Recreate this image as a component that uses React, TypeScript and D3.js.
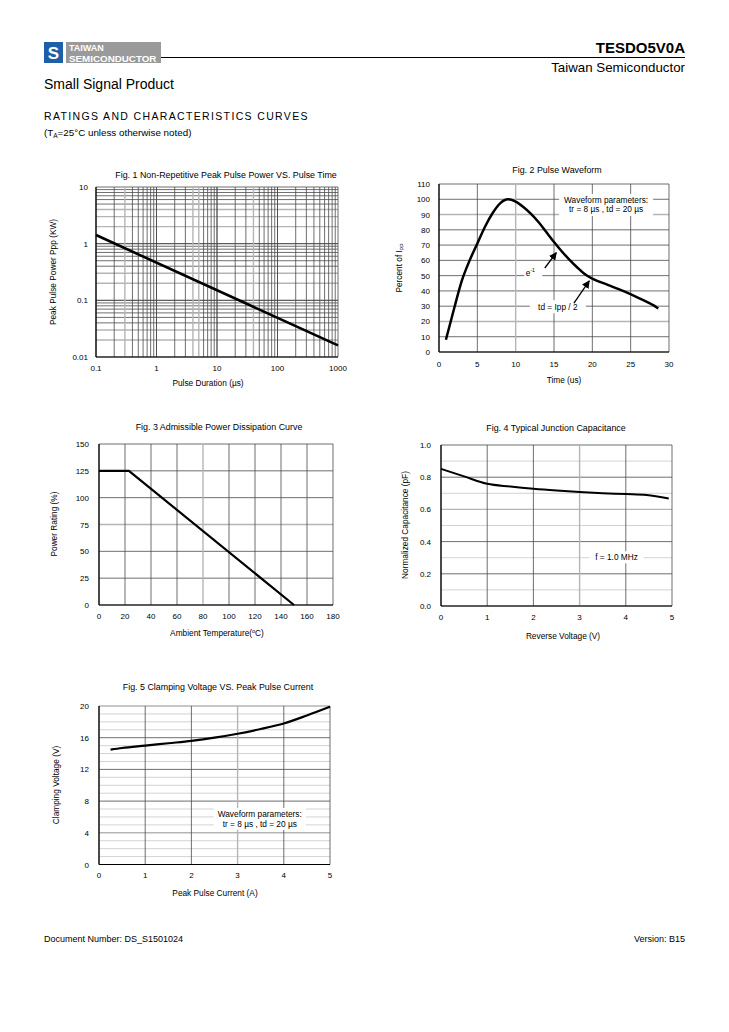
import React from "react";
import * as d3 from "d3";

// ---------- DATA ----------
const fig1Duration = [0.1, 1000];
const fig1Power = [1.42, 0.016];
const fig1XTicks = [0.1, 1, 10, 100, 1000];
const fig1YTicks = [0.01, 0.1, 1, 10];

const fig2Time = [0.9, 2, 3, 4, 5, 6, 7, 8, 9, 10, 11, 12, 13, 14, 15, 16, 17, 18, 19, 20, 22, 24, 26, 28, 28.6];
const fig2Percent = [8, 29, 47, 60, 71, 82, 91, 97.5, 100, 98.5, 95, 90.5, 85, 78.5, 72, 66, 60.5, 55.5, 51, 48, 44, 40, 35.5, 30.5, 28.5];
const fig2XTicks = [0, 5, 10, 15, 20, 25, 30];
const fig2YTicks = [0, 10, 20, 30, 40, 50, 60, 70, 80, 90, 100, 110];

const fig3Temp = [0, 23, 150];
const fig3Rating = [125, 125, 0];
const fig3XTicks = [0, 20, 40, 60, 80, 100, 120, 140, 160, 180];
const fig3YTicks = [0, 25, 50, 75, 100, 125, 150];

const fig4Voltage = [0, 0.5, 1, 1.5, 2, 2.5, 3, 3.5, 4, 4.45, 4.93];
const fig4Cap = [0.852, 0.805, 0.759, 0.742, 0.728, 0.717, 0.708, 0.701, 0.695, 0.689, 0.668];
const fig4XTicks = [0, 1, 2, 3, 4, 5];
const fig4YTicks = [0, 0.2, 0.4, 0.6, 0.8, 1.0];
const fig4YMinor = [0.1, 0.3, 0.5, 0.7, 0.9];

const fig5Current = [0.25, 0.5, 1, 1.5, 2, 2.5, 3, 3.5, 4, 4.5, 5];
const fig5Clamp = [14.5, 14.7, 15.0, 15.3, 15.6, 16.0, 16.5, 17.1, 17.8, 18.8, 19.9];
const fig5XTicks = [0, 1, 2, 3, 4, 5];
const fig5YTicks = [0, 4, 8, 12, 16, 20];
const fig5YMinor = [1, 2, 3, 5, 6, 7, 9, 10, 11, 13, 14, 15, 17, 18, 19];

const FONT = "'Liberation Sans', Arial, Helvetica, sans-serif";
const GRID = "#4a4a4a";
const GRID_LIGHT = "#b5b5b5";
const TITLE = 8.9;
const AXL = 8.3;

type Pt = [number, number];
const zip = (a: number[], b: number[]): Pt[] => a.map((v, i) => [v, b[i]]);

function Label({ x, y, children, size = 8, anchor = "middle", rotate = 0, weight = "normal" }: any) {
  return (
    <text
      x={x}
      y={y}
      fontSize={size}
      textAnchor={anchor}
      fontFamily={FONT}
      fontWeight={weight}
      fill="#000"
      transform={rotate ? `rotate(${rotate},${x},${y})` : undefined}
    >
      {children}
    </text>
  );
}

function Fig1() {
  const x = d3.scaleLog().domain([0.1, 1000]).range([96, 338]);
  const y = d3.scaleLog().domain([0.01, 10]).range([357, 187]);
  const xGrid: number[] = [];
  for (let k = -1; k < 3; k++) for (let m = 1; m <= 10; m++) xGrid.push(m * Math.pow(10, k));
  const yGrid: number[] = [];
  for (let k = -2; k < 1; k++) for (let m = 1; m <= 10; m++) yGrid.push(m * Math.pow(10, k));
  const line = d3.line<Pt>().x((d) => x(d[0])).y((d) => y(d[1]));
  const lightX = [0.3, 4, 5, 40];
  const lightY = [0.02, 0.03, 0.2, 0.3, 2, 3, 4];
  const isL = (arr: number[], v: number) => arr.some((l) => Math.abs(l - v) < 1e-9);
  return (
    <g>
      <Label x={226} y={178} size={TITLE}>Fig. 1 Non-Repetitive Peak Pulse Power VS. Pulse Time</Label>
      {yGrid.map((v, i) => (
        <line key={"y" + i} x1={96} x2={338} y1={y(v)} y2={y(v)}
          stroke={isL(lightY, v) ? GRID_LIGHT : GRID} strokeWidth={isL(lightY, v) ? 1.4 : 0.8} />
      ))}
      {xGrid.map((v, i) => (
        <line key={"x" + i} x1={x(v)} x2={x(v)} y1={187} y2={357}
          stroke={isL(lightX, v) ? GRID_LIGHT : GRID} strokeWidth={isL(lightX, v) ? 1.4 : 0.8} />
      ))}
      <line x1={96} x2={96} y1={187} y2={357} stroke="#000" strokeWidth={1.2} />
      <line x1={96} x2={338} y1={357} y2={357} stroke="#000" strokeWidth={1.2} />
      <path d={line(zip(fig1Duration, fig1Power)) || ""} fill="none" stroke="#000" strokeWidth={2.6} />
      {fig1YTicks.map((v) => (
        <Label key={v} x={88} y={y(v) + 3} anchor="end">{String(v)}</Label>
      ))}
      {fig1XTicks.map((v) => (
        <Label key={v} x={x(v)} y={371}>{String(v)}</Label>
      ))}
      <Label x={208} y={386} size={AXL}>Pulse Duration (µs)</Label>
      <Label x={56} y={272} rotate={-90} size={AXL}>Peak Pulse Power Ppp (KW)</Label>
    </g>
  );
}

function Fig2() {
  const x = d3.scaleLinear().domain([0, 30]).range([439, 669]);
  const y = d3.scaleLinear().domain([0, 110]).range([352, 184]);
  const line = d3.line<Pt>().x((d) => x(d[0])).y((d) => y(d[1])).curve(d3.curveMonotoneX);
  const lightX = [10];
  const lightY = [20, 90];
  return (
    <g>
      <defs>
        <marker id="arr" viewBox="0 0 10 10" refX="9" refY="5" markerWidth="6" markerHeight="6" orient="auto">
          <path d="M0,0 L10,5 L0,10 z" fill="#000" />
        </marker>
      </defs>
      <Label x={557} y={173} size={TITLE}>Fig. 2 Pulse Waveform</Label>
      {fig2YTicks.map((v) => (
        <line key={"gy" + v} x1={x(0)} x2={x(30)} y1={y(v)} y2={y(v)}
          stroke={lightY.includes(v) ? GRID_LIGHT : GRID} strokeWidth={lightY.includes(v) ? 1.4 : 0.8} />
      ))}
      {fig2XTicks.map((v) => (
        <line key={"gx" + v} x1={x(v)} x2={x(v)} y1={y(0)} y2={y(110)}
          stroke={lightX.includes(v) ? GRID_LIGHT : GRID} strokeWidth={lightX.includes(v) ? 1.4 : 0.8} />
      ))}
      <line x1={x(0)} x2={x(0)} y1={y(0)} y2={y(110)} stroke="#000" strokeWidth={1.2} />
      <line x1={x(0)} x2={x(30)} y1={y(0)} y2={y(0)} stroke="#000" strokeWidth={1.2} />
      <rect x={x(21.8) - 47} y={y(97.6) - 9} width={94} height={22} fill="#fff" />
      <Label x={x(21.8)} y={y(97.6)} size={8.3}>Waveform parameters:</Label>
      <Label x={x(21.8)} y={y(91.6)} size={8.3}>tr = 8 µs , td = 20 µs</Label>
      <path d={line(zip(fig2Time, fig2Percent)) || ""} fill="none" stroke="#000" strokeWidth={2.5} />
      <rect x={x(12.3) - 9} y={y(51) - 9} width={18} height={12} fill="#fff" />
      <text x={x(12.3) - 3} y={y(51) + 2} fontSize={8.3} fontFamily={FONT} textAnchor="middle">
        e<tspan fontSize={5} dy={-4}>-1</tspan>
      </text>
      <line x1={x(13.8)} y1={y(55)} x2={x(15.3)} y2={y(65)} stroke="#000" strokeWidth={1.3} markerEnd="url(#arr)" />
      <rect x={x(15.5) - 28} y={y(28) - 9} width={56} height={13} fill="#fff" />
      <Label x={x(15.5)} y={y(28) + 1} size={8.3}>td = Ipp / 2</Label>
      <line x1={x(17.6)} y1={y(32)} x2={x(19.6)} y2={y(46.5)} stroke="#000" strokeWidth={1.3} markerEnd="url(#arr)" />
      {fig2YTicks.map((v) => (
        <Label key={v} x={430} y={y(v) + 3} anchor="end">{String(v)}</Label>
      ))}
      {fig2XTicks.map((v) => (
        <Label key={v} x={x(v)} y={367}>{String(v)}</Label>
      ))}
      <Label x={564} y={383} size={AXL}>Time (us)</Label>
      <text x={402} y={268} fontSize={AXL} fontFamily={FONT} textAnchor="middle" transform="rotate(-90,402,268)">
        Percent of I<tspan fontSize={5} dy={2}>PP</tspan>
      </text>
    </g>
  );
}

function Fig3() {
  const x = d3.scaleLinear().domain([0, 180]).range([99, 333]);
  const y = d3.scaleLinear().domain([0, 150]).range([605, 444]);
  const line = d3.line<Pt>().x((d) => x(d[0])).y((d) => y(d[1]));
  const lightX = [80];
  const lightY = [75];
  return (
    <g>
      <Label x={219} y={430} size={TITLE}>Fig. 3 Admissible Power Dissipation Curve</Label>
      {fig3YTicks.map((v) => (
        <line key={"gy" + v} x1={x(0)} x2={x(180)} y1={y(v)} y2={y(v)}
          stroke={lightY.includes(v) ? GRID_LIGHT : GRID} strokeWidth={lightY.includes(v) ? 1.4 : 0.8} />
      ))}
      {fig3XTicks.map((v) => (
        <line key={"gx" + v} x1={x(v)} x2={x(v)} y1={y(0)} y2={y(150)}
          stroke={lightX.includes(v) ? GRID_LIGHT : GRID} strokeWidth={lightX.includes(v) ? 1.4 : 0.8} />
      ))}
      <line x1={x(0)} x2={x(0)} y1={y(0)} y2={y(150)} stroke="#000" strokeWidth={1.2} />
      <line x1={x(0)} x2={x(180)} y1={y(0)} y2={y(0)} stroke="#000" strokeWidth={1.2} />
      <path d={line(zip(fig3Temp, fig3Rating)) || ""} fill="none" stroke="#000" strokeWidth={2.2} />
      {fig3YTicks.map((v) => (
        <Label key={v} x={89} y={y(v) + 3} anchor="end">{String(v)}</Label>
      ))}
      {fig3XTicks.map((v) => (
        <Label key={v} x={x(v)} y={619}>{String(v)}</Label>
      ))}
      <text x={217} y={636} fontSize={AXL} fontFamily={FONT} textAnchor="middle">
        Ambient Temperature(<tspan fontSize={5.5} dy={-3}>o</tspan><tspan dy={3}>C)</tspan>
      </text>
      <Label x={57} y={524} rotate={-90} size={AXL}>Power Rating (%)</Label>
    </g>
  );
}

function Fig4() {
  const x = d3.scaleLinear().domain([0, 5]).range([441, 672]);
  const y = d3.scaleLinear().domain([0, 1]).range([606, 445]);
  const line = d3.line<Pt>().x((d) => x(d[0])).y((d) => y(d[1])).curve(d3.curveMonotoneX);
  const lightX = [3];
  const lightY = [0.6];
  return (
    <g>
      <Label x={556} y={431} size={TITLE}>Fig. 4 Typical Junction Capacitance</Label>
      {fig4YMinor.map((v) => (
        <line key={"my" + v} x1={x(0)} x2={x(5)} y1={y(v)} y2={y(v)} stroke="#c8c8c8" strokeWidth={0.8} />
      ))}
      {fig4YTicks.map((v) => (
        <line key={"gy" + v} x1={x(0)} x2={x(5)} y1={y(v)} y2={y(v)}
          stroke={lightY.includes(v) ? GRID_LIGHT : GRID} strokeWidth={lightY.includes(v) ? 1.4 : 0.8} />
      ))}
      {fig4XTicks.map((v) => (
        <line key={"gx" + v} x1={x(v)} x2={x(v)} y1={y(0)} y2={y(1)}
          stroke={lightX.includes(v) ? GRID_LIGHT : GRID} strokeWidth={lightX.includes(v) ? 1.4 : 0.8} />
      ))}
      <line x1={x(0)} x2={x(0)} y1={y(0)} y2={y(1)} stroke="#000" strokeWidth={1.2} />
      <line x1={x(0)} x2={x(5)} y1={y(0)} y2={y(0)} stroke="#000" strokeWidth={1.2} />
      <path d={line(zip(fig4Voltage, fig4Cap)) || ""} fill="none" stroke="#000" strokeWidth={2} />
      <rect x={x(3.8) - 27} y={y(0.29) - 8} width={54} height={12} fill="#fff" />
      <Label x={x(3.8)} y={y(0.29) + 1} size={8.3}>f = 1.0 MHz</Label>
      {fig4YTicks.map((v) => (
        <Label key={v} x={431} y={y(v) + 3} anchor="end">{v.toFixed(1)}</Label>
      ))}
      {fig4XTicks.map((v) => (
        <Label key={v} x={x(v)} y={620}>{String(v)}</Label>
      ))}
      <Label x={563} y={639} size={AXL}>Reverse Voltage (V)</Label>
      <Label x={408} y={525} rotate={-90} size={AXL}>Normalized Capacitance (pF)</Label>
    </g>
  );
}

function Fig5() {
  const x = d3.scaleLinear().domain([0, 5]).range([99, 330]);
  const y = d3.scaleLinear().domain([0, 20]).range([864.5, 706]);
  const line = d3.line<Pt>().x((d) => x(d[0])).y((d) => y(d[1])).curve(d3.curveMonotoneX);
  const lightX = [3];
  const lightY = [4, 20];
  return (
    <g>
      <Label x={218} y={690} size={TITLE}>Fig. 5 Clamping Voltage VS. Peak Pulse Current</Label>
      {fig5YMinor.map((v) => (
        <line key={"my" + v} x1={x(0)} x2={x(5)} y1={y(v)} y2={y(v)} stroke="#c8c8c8" strokeWidth={0.8} />
      ))}
      {fig5YTicks.map((v) => (
        <line key={"gy" + v} x1={x(0)} x2={x(5)} y1={y(v)} y2={y(v)}
          stroke={lightY.includes(v) ? GRID_LIGHT : GRID} strokeWidth={lightY.includes(v) ? 1.4 : 0.8} />
      ))}
      {fig5XTicks.map((v) => (
        <line key={"gx" + v} x1={x(v)} x2={x(v)} y1={y(0)} y2={y(20)}
          stroke={lightX.includes(v) ? GRID_LIGHT : GRID} strokeWidth={lightX.includes(v) ? 1.4 : 0.8} />
      ))}
      <line x1={x(0)} x2={x(0)} y1={y(0)} y2={y(20)} stroke="#000" strokeWidth={1.2} />
      <line x1={x(0)} x2={x(5)} y1={y(0)} y2={y(0)} stroke="#000" strokeWidth={1.2} />
      <path d={line(zip(fig5Current, fig5Clamp)) || ""} fill="none" stroke="#000" strokeWidth={2.2} />
      <rect x={x(3.48) - 46} y={y(6.0) - 9} width={92} height={22} fill="#fff" />
      <Label x={x(3.48)} y={y(6.0)} size={8.3}>Waveform parameters:</Label>
      <Label x={x(3.48)} y={y(4.75)} size={8.3}>tr = 8 µs , td = 20 µs</Label>
      {fig5YTicks.map((v) => (
        <Label key={v} x={89} y={y(v) + 3} anchor="end">{String(v)}</Label>
      ))}
      {fig5XTicks.map((v) => (
        <Label key={v} x={x(v)} y={878}>{String(v)}</Label>
      ))}
      <Label x={215} y={896} size={AXL}>Peak Pulse Current (A)</Label>
      <Label x={59} y={785} rotate={-90} size={AXL}>Clamping Voltage (V)</Label>
    </g>
  );
}

function Header() {
  return (
    <g fontFamily={FONT}>
      <rect x={44} y={42} width={19} height={21} fill="#1f5fa8" />
      <text x={53.5} y={59} fontSize={17} fontWeight="bold" fill="#fff" textAnchor="middle" fontFamily={FONT}>S</text>
      <rect x={66} y={42} width={95} height={21} fill="#9a9a9a" />
      <text x={69} y={51} fontSize={9} fontWeight="bold" fill="#fff" fontFamily={FONT}>TAIWAN</text>
      <text x={69} y={61.5} fontSize={9.8} fontWeight="bold" fill="#fff" fontFamily={FONT}>SEMICONDUCTOR</text>
      <line x1={161} x2={685} y1={57.5} y2={57.5} stroke="#000" strokeWidth={1} />
      <text x={685} y={53} fontSize={15} fontWeight="bold" textAnchor="end" fontFamily={FONT}>TESDO5V0A</text>
      <text x={685} y={72} fontSize={13.3} textAnchor="end" fontFamily={FONT}>Taiwan Semiconductor</text>
      <text x={44} y={89} fontSize={14} fontFamily={FONT}>Small Signal Product</text>
      <text x={44} y={120} fontSize={10.5} letterSpacing={1.35} fontFamily={FONT}>RATINGS AND CHARACTERISTICS CURVES</text>
      <text x={44} y={136} fontSize={9.8} fontFamily={FONT}>
        (T<tspan fontSize={6.5} dy={2}>A</tspan><tspan dy={-2}>=25°C unless otherwise noted)</tspan>
      </text>
      <text x={44} y={942} fontSize={9} fontFamily={FONT}>Document Number: DS_S1501024</text>
      <text x={685} y={942} fontSize={9} textAnchor="end" fontFamily={FONT}>Version: B15</text>
    </g>
  );
}

export default function App() {
  return (
    <svg
      width={729}
      height={1032}
      viewBox="0 0 729 1032"
      style={{ position: "absolute", left: 0, top: 0, background: "#fff" }}
    >
      <rect x={0} y={0} width={729} height={1032} fill="#fff" />
      <Header />
      <Fig1 />
      <Fig2 />
      <Fig3 />
      <Fig4 />
      <Fig5 />
    </svg>
  );
}
